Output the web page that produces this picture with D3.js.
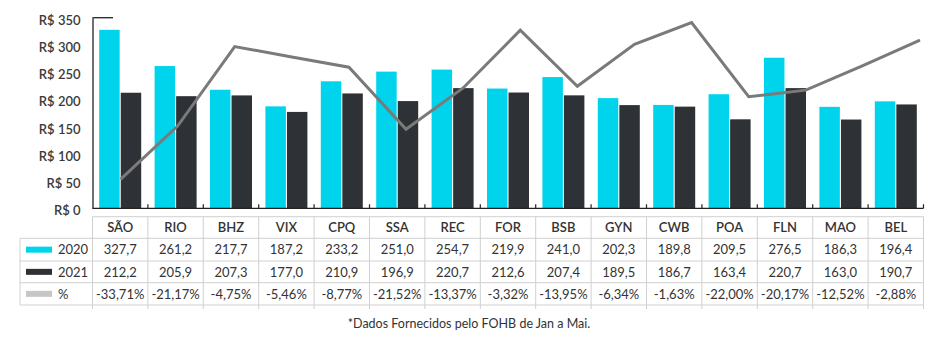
<!DOCTYPE html>
<html><head><meta charset="utf-8">
<script src="https://cdn.jsdelivr.net/npm/d3@7"></script>
<style>
html,body{margin:0;padding:0;background:#fff;}
svg{display:block;font-family:Lato,"Open Sans",sans-serif;}
</style></head>
<body>
<svg id="chart" width="948" height="341"></svg>
<script>
const categories = ["SÃO","RIO","BHZ","VIX","CPQ","SSA","REC","FOR","BSB","GYN","CWB","POA","FLN","MAO","BEL"];
const values2020 = [327.7,261.2,217.7,187.2,233.2,251.0,254.7,219.9,241.0,202.3,189.8,209.5,276.5,186.3,196.4];
const values2021 = [212.2,205.9,207.3,177.0,210.9,196.9,220.7,212.6,207.4,189.5,186.7,163.4,220.7,163.0,190.7];
const pctValues = [-33.71,-21.17,-4.75,-5.46,-8.77,-21.52,-13.37,-3.32,-13.95,-6.34,-1.63,-22.00,-20.17,-12.52,-2.88];
// gray line as drawn in the picture, read against the left axis
const lineValues = [53,151,297,278,259,145,221,327,224,301,341,205,217,262,309];
const yTicks = [0,50,100,150,200,250,300,350];
const seriesNames = ["2020","2021","%"];
const colors = {"2020":"#00D3EC","2021":"#2E3135","%":"#C6C6C6",line:"#7A7A7A"};

(function(){
const svg = d3.select("#chart");
const pLeft = 92.5, pRight = 923.5, pTop = 17.7, pBottom = 208.3;

const x = d3.scaleBand().domain(categories).range([pLeft, pRight]);
const xs = d3.scaleBand().domain(["2020","2021"]).range([6.7, 48.7]).paddingInner(0.05);
const y = d3.scaleLinear().domain([0,350]).range([pBottom, pTop]);
const xl = d3.scalePoint().domain(categories).range([120.5, 920]);

const fmt1 = v => d3.format(".1f")(v).replace(".", ",");
const fmtP = v => d3.format(".2f")(v).replace(".", ",").replace("−","-") + "%";

// bars
const g = svg.append("g");
categories.forEach((c,i)=>{
  [["2020",values2020[i]],["2021",values2021[i]]].forEach(([s,v])=>{
    g.append("rect")
      .attr("x", x(c)+xs(s)).attr("width", xs.bandwidth())
      .attr("y", y(v)).attr("height", y(0)-y(v))
      .attr("fill", colors[s]);
  });
});

// line
svg.append("path")
  .datum(lineValues)
  .attr("fill","none").attr("stroke",colors.line).attr("stroke-width",3)
  .attr("stroke-linejoin","miter")
  .attr("d", d3.line().x((d,i)=>xl(categories[i])).y(d=>y(d)));

// y axis
const ya = svg.append("g").attr("transform",`translate(${pLeft},0)`)
  .call(d3.axisLeft(y).tickValues(yTicks).tickSize(0).tickPadding(12).tickFormat(d=>"R$ "+d));
ya.select(".domain").attr("stroke","#222").attr("stroke-width",1.3);
ya.selectAll("text").attr("font-family","Lato,sans-serif").attr("font-size",13)
  .attr("fill","#3a3a3a").attr("font-weight",600).attr("dy","0.5em");
svg.append("line").attr("x1",pLeft).attr("x2",pLeft+20.5).attr("y1",y(350)).attr("y2",y(350))
  .attr("stroke","#222").attr("stroke-width",1.3);

// x axis
svg.append("line").attr("x1",pLeft).attr("x2",pRight).attr("y1",pBottom).attr("y2",pBottom)
  .attr("stroke","#222").attr("stroke-width",1.3);
categories.forEach((c,i)=>{
  const xx = x(c)+x.bandwidth();
  svg.append("line").attr("x1",xx).attr("x2",xx).attr("y1",pBottom).attr("y2",pBottom-4)
    .attr("stroke","#222").attr("stroke-width",1.2);
});

// table
const rowsY = [216.7, 238.3, 261, 282.7, 305];
const tleft = 20;
const tg = svg.append("g").attr("stroke","#d0d0d0").attr("stroke-width",1);
tg.append("line").attr("x1",pLeft).attr("x2",pRight).attr("y1",rowsY[0]).attr("y2",rowsY[0]);
rowsY.slice(1).forEach(yy=>tg.append("line").attr("x1",tleft).attr("x2",pRight).attr("y1",yy).attr("y2",yy));
tg.append("line").attr("x1",tleft).attr("x2",tleft).attr("y1",rowsY[1]).attr("y2",rowsY[4]);
categories.forEach(c=>{
  tg.append("line").attr("x1",x(c)).attr("x2",x(c)).attr("y1",rowsY[0]).attr("y2",rowsY[4]+4);
});
tg.append("line").attr("x1",pRight).attr("x2",pRight).attr("y1",rowsY[0]).attr("y2",rowsY[4]+4);

const tt = svg.append("g").attr("font-family","Lato,sans-serif").attr("font-size",13).attr("fill","#333");
const rowMid = i => (rowsY[i]+rowsY[i+1])/2;
categories.forEach((c,i)=>{
  const cx = x(c)+x.bandwidth()/2;
  tt.append("text").attr("x",cx).attr("y",rowMid(0)).attr("dy","0.36em").attr("text-anchor","middle")
    .attr("font-weight",600).text(c);
  tt.append("text").attr("x",cx).attr("y",rowMid(1)).attr("dy","0.36em").attr("text-anchor","middle").text(fmt1(values2020[i]));
  tt.append("text").attr("x",cx).attr("y",rowMid(2)).attr("dy","0.36em").attr("text-anchor","middle").text(fmt1(values2021[i]));
  tt.append("text").attr("x",cx).attr("y",rowMid(3)).attr("dy","0.36em").attr("text-anchor","middle").text(fmtP(pctValues[i]));
});
seriesNames.forEach((s,i)=>{
  const my = rowMid(i+1);
  svg.append("rect").attr("x",26).attr("y",my-3).attr("width",26).attr("height",6).attr("fill",colors[s]);
  tt.append("text").attr("x",58).attr("y",my).attr("dy","0.36em").text(s);
});

// footnote
svg.append("text").attr("x",469).attr("y",328).attr("text-anchor","middle")
  .attr("font-family","Lato,sans-serif").attr("font-size",12.5).attr("fill","#333")
  .text("*Dados Fornecidos pelo FOHB de Jan a Mai.");
})();
</script>
</body></html>
